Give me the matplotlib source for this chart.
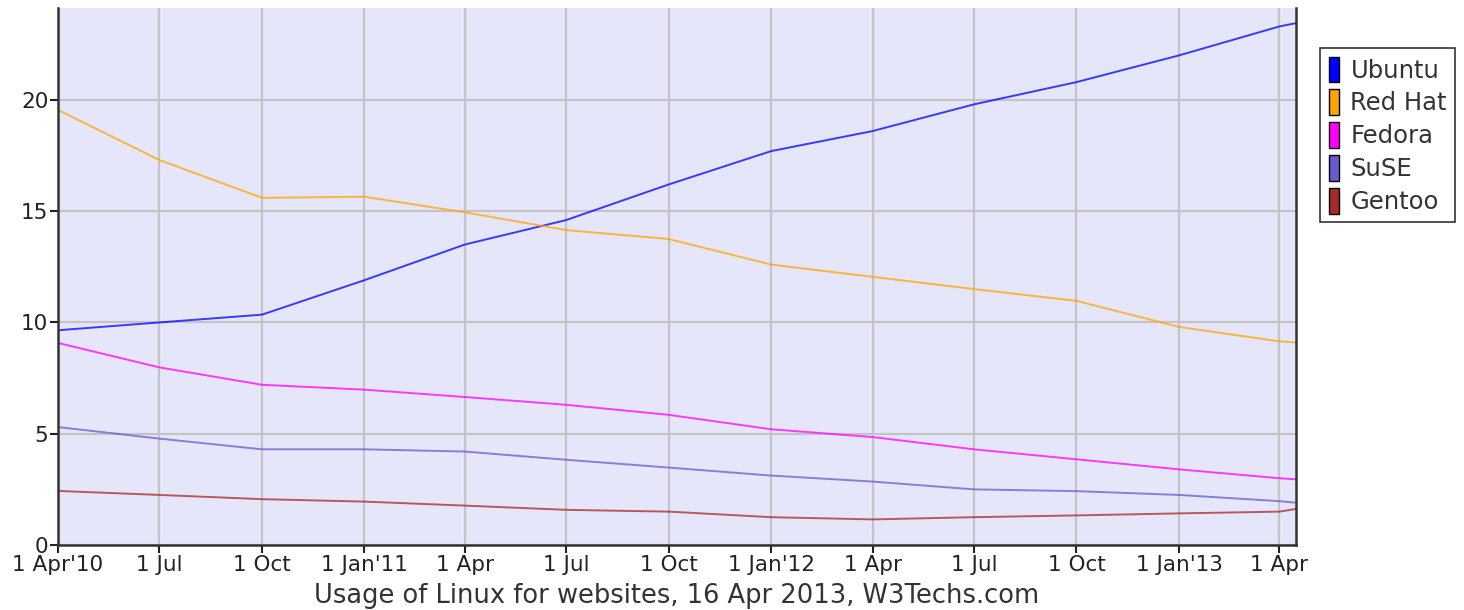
import datetime as dt
import matplotlib
matplotlib.use("Agg")
import matplotlib.pyplot as plt
from matplotlib.patches import Patch

# quarterly readings, 1 Apr 2010 .. 1 Apr 2013, plus 16 Apr 2013
dates = [dt.date(2010, 4, 1), dt.date(2010, 7, 1), dt.date(2010, 10, 1),
         dt.date(2011, 1, 1), dt.date(2011, 4, 1), dt.date(2011, 7, 1),
         dt.date(2011, 10, 1), dt.date(2012, 1, 1), dt.date(2012, 4, 1),
         dt.date(2012, 7, 1), dt.date(2012, 10, 1), dt.date(2013, 1, 1),
         dt.date(2013, 4, 1), dt.date(2013, 4, 16)]

ubuntu = [9.65, 10.0, 10.35, 11.9, 13.5, 14.6, 16.2, 17.7, 18.6, 19.8, 20.8, 22.0, 23.3, 23.45]
redhat = [19.55, 17.3, 15.6, 15.65, 14.95, 14.15, 13.75, 12.6, 12.05, 11.5, 10.97, 9.8, 9.15, 9.1]
fedora = [9.08, 7.98, 7.2, 6.98, 6.65, 6.3, 5.85, 5.2, 4.85, 4.3, 3.85, 3.4, 3.0, 2.95]
suse = [5.3, 4.78, 4.3, 4.3, 4.2, 3.83, 3.48, 3.12, 2.85, 2.5, 2.42, 2.25, 1.97, 1.9]
gentoo = [2.43, 2.25, 2.06, 1.95, 1.77, 1.58, 1.5, 1.25, 1.15, 1.25, 1.33, 1.42, 1.5, 1.62]

series = [("Ubuntu", ubuntu, "#0000ff"),
          ("Red Hat", redhat, "#ffa500"),
          ("Fedora", fedora, "#ff00ff"),
          ("SuSE", suse, "#6a5acd"),
          ("Gentoo", gentoo, "#a52a2a")]

tick_dates = dates[:13]
tick_labels = ["1 Apr'10", "1 Jul", "1 Oct", "1 Jan'11", "1 Apr", "1 Jul", "1 Oct",
               "1 Jan'12", "1 Apr", "1 Jul", "1 Oct", "1 Jan'13", "1 Apr"]

fig = plt.figure(figsize=(14.64, 6.1), dpi=100)
ax = fig.add_axes([58 / 1464, 65 / 610, (1296 - 58) / 1464, (545 - 8) / 610])
ax.set_facecolor("#e6e6fa")

for name, vals, col in series:
    ax.plot(dates, vals, color=col, lw=1.4, alpha=0.75)

ax.set_xlim(dt.date(2010, 4, 1), dt.date(2013, 4, 16))
ax.set_ylim(0, 24.13)
ax.set_xticks(tick_dates)
ax.set_xticklabels(tick_labels)
ax.set_yticks([0, 5, 10, 15, 20])
ax.grid(True, color="#c4c4c4", lw=1.6)
ax.set_axisbelow(True)
ax.tick_params(labelsize=15.5, length=6, width=1.5, colors="#222222", pad=1)
ax.spines["top"].set_visible(False)
for s in ["left", "bottom", "right"]:
    ax.spines[s].set_color("#333333")
    ax.spines[s].set_linewidth(1.8)

ax.set_xlabel("Usage of Linux for websites, 16 Apr 2013, W3Techs.com",
              fontsize=18.5, color="#333333", labelpad=6)

handles = [Patch(facecolor=col, edgecolor="black", lw=1) for _, _, col in series]
leg = fig.legend(handles, [n for n, _, _ in series], loc="upper left",
                 bbox_to_anchor=(1320 / 1464, 1 - 48 / 610), fontsize=17.5,
                 frameon=True, fancybox=False, handlelength=0.45, handleheight=1.25,
                 handletextpad=0.45, labelspacing=0.28, borderpad=0.35,
                 borderaxespad=0)
leg.get_frame().set_edgecolor("black")
leg.get_frame().set_linewidth(1.2)
for t in leg.get_texts():
    t.set_color("#333333")

fig.savefig("out.png", dpi=100)
